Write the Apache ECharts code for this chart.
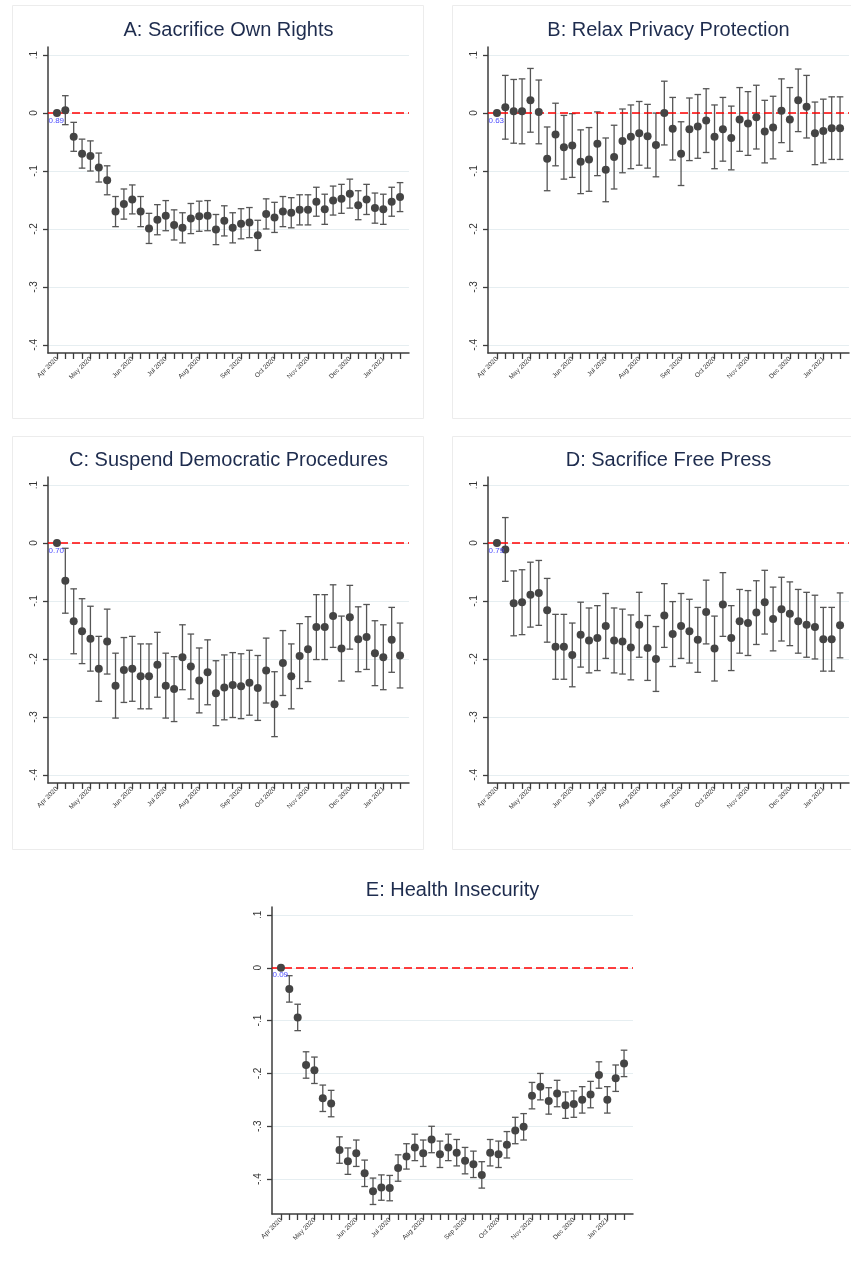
<!DOCTYPE html>
<html><head><meta charset="utf-8">
<script src="https://cdn.jsdelivr.net/npm/echarts@6/dist/echarts.min.js"></script>
<style>html,body{margin:0;padding:0;background:#fff}#c{width:851px;height:1274px}</style>
</head><body><div id="c"></div>
<script>
// ---- data ----
const tickLabels = ["Apr 2020","May 2020","Jun 2020","Jul 2020","Aug 2020","Sep 2020","Oct 2020","Nov 2020","Dec 2020","Jan 2021"];
const tickWeeks  = [0,4,9,13,17,22,26,30,35,39];
const weeks = [0,1,2,3,4,5,6,7,8,9,10,11,12,13,14,15,16,17,18,19,20,21,22,23,24,25,26,27,28,29,30,31,32,33,34,35,36,37,38,39,40,41];
const yTicks = [0.1,0,-0.1,-0.2,-0.3,-0.4];

const titles = ["A: Sacrifice Own Rights","B: Relax Privacy Protection","C: Suspend Democratic Procedures","D: Sacrifice Free Press","E: Health Insecurity"];
const baseLabels = ["0.89","0.63","0.70","0.79","0.09"];

const estA = [0,0.005,-0.041,-0.070,-0.074,-0.094,-0.116,-0.170,-0.157,-0.149,-0.170,-0.199,-0.184,-0.177,-0.193,-0.198,-0.182,-0.178,-0.177,-0.201,-0.186,-0.198,-0.191,-0.189,-0.211,-0.174,-0.180,-0.170,-0.172,-0.167,-0.167,-0.153,-0.166,-0.151,-0.148,-0.139,-0.159,-0.149,-0.164,-0.166,-0.153,-0.145];
const ciA  = [null,0.025,0.025,0.025,0.026,0.025,0.025,0.026,0.026,0.025,0.026,0.026,0.026,0.026,0.026,0.026,0.026,0.026,0.026,0.026,0.026,0.026,0.026,0.026,0.026,0.026,0.026,0.026,0.026,0.026,0.026,0.025,0.026,0.025,0.025,0.025,0.025,0.026,0.026,0.026,0.025,0.025];

const estB = [0,0.010,0.003,0.003,0.022,0.002,-0.079,-0.037,-0.059,-0.056,-0.084,-0.080,-0.053,-0.098,-0.076,-0.048,-0.041,-0.035,-0.040,-0.055,0.000,-0.027,-0.070,-0.028,-0.023,-0.013,-0.041,-0.028,-0.043,-0.011,-0.018,-0.007,-0.032,-0.025,0.004,-0.011,0.022,0.011,-0.035,-0.031,-0.026,-0.026];
const ciB  = [null,0.055,0.055,0.056,0.055,0.055,0.055,0.054,0.055,0.055,0.055,0.055,0.055,0.055,0.055,0.055,0.055,0.055,0.055,0.055,0.055,0.054,0.055,0.054,0.055,0.055,0.055,0.055,0.055,0.055,0.055,0.055,0.054,0.054,0.055,0.055,0.054,0.054,0.054,0.055,0.054,0.054];

const estC = [0,-0.065,-0.135,-0.152,-0.165,-0.217,-0.170,-0.246,-0.219,-0.217,-0.230,-0.230,-0.210,-0.246,-0.252,-0.197,-0.213,-0.237,-0.223,-0.259,-0.249,-0.245,-0.247,-0.241,-0.250,-0.220,-0.278,-0.207,-0.230,-0.195,-0.183,-0.145,-0.145,-0.126,-0.182,-0.128,-0.166,-0.162,-0.190,-0.197,-0.167,-0.194];
const ciC  = [null,0.056,0.056,0.056,0.056,0.056,0.056,0.056,0.056,0.056,0.056,0.056,0.056,0.056,0.056,0.056,0.056,0.056,0.056,0.056,0.056,0.056,0.056,0.056,0.056,0.056,0.056,0.056,0.056,0.056,0.056,0.056,0.056,0.054,0.056,0.055,0.056,0.056,0.056,0.056,0.056,0.056];

const estD = [0,-0.011,-0.104,-0.102,-0.089,-0.086,-0.116,-0.179,-0.179,-0.193,-0.158,-0.168,-0.164,-0.143,-0.168,-0.170,-0.180,-0.141,-0.181,-0.200,-0.125,-0.157,-0.143,-0.152,-0.167,-0.119,-0.182,-0.106,-0.164,-0.135,-0.138,-0.120,-0.102,-0.131,-0.114,-0.122,-0.135,-0.141,-0.145,-0.166,-0.166,-0.142];
const ciD  = [null,0.055,0.056,0.056,0.056,0.056,0.055,0.056,0.056,0.055,0.056,0.056,0.056,0.056,0.056,0.056,0.056,0.056,0.056,0.056,0.055,0.056,0.056,0.055,0.056,0.055,0.056,0.055,0.056,0.055,0.056,0.055,0.055,0.055,0.055,0.055,0.055,0.056,0.055,0.055,0.055,0.056];

const estE = [0,-0.040,-0.094,-0.184,-0.194,-0.247,-0.257,-0.345,-0.366,-0.351,-0.389,-0.423,-0.416,-0.417,-0.379,-0.357,-0.340,-0.351,-0.325,-0.353,-0.340,-0.350,-0.365,-0.372,-0.392,-0.350,-0.353,-0.335,-0.308,-0.301,-0.242,-0.225,-0.252,-0.238,-0.260,-0.258,-0.250,-0.240,-0.203,-0.250,-0.209,-0.181];
const ciE  = [null,0.025,0.025,0.025,0.025,0.025,0.025,0.025,0.025,0.025,0.025,0.025,0.024,0.024,0.025,0.024,0.025,0.025,0.025,0.025,0.025,0.025,0.025,0.025,0.025,0.025,0.025,0.025,0.025,0.025,0.025,0.025,0.025,0.025,0.025,0.025,0.025,0.025,0.025,0.025,0.025,0.025];

// ---- layout ----
const panels = [
  {est: estA, ci: ciA, left: 48,  top: 47,  height: 306, ymin: -0.414, ymax: 0.114, box: [12,5,411,413]},
  {est: estB, ci: ciB, left: 488, top: 47,  height: 306, ymin: -0.414, ymax: 0.114, box: [452,5,410,413]},
  {est: estC, ci: ciC, left: 48,  top: 477, height: 306, ymin: -0.414, ymax: 0.114, box: [12,436,411,413]},
  {est: estD, ci: ciD, left: 488, top: 477, height: 306, ymin: -0.414, ymax: 0.114, box: [452,436,410,413]},
  {est: estE, ci: ciE, left: 272, top: 907, height: 307, ymin: -0.466, ymax: 0.115, box: null}
];
const plotW = 361;

function fmtY(v){ if (Math.abs(v) < 1e-9) return '0'; return (Math.round(v*10)/10).toString().replace('0.', '.'); }

const grid = [], xAxis = [], yAxis = [], series = [], graphic = [];
const axisCol = '#3c3c3c';
panels.forEach((p, i) => {
  grid.push({left: p.left, top: p.top, width: plotW, height: p.height});
  xAxis.push({
    type: 'value', gridIndex: i, min: -1.07, max: 42.07,
    axisLine: {show: true, onZero: false, lineStyle: {color: axisCol, width: 1.5}},
    axisTick: {show: true, customValues: weeks, length: 6, lineStyle: {color: axisCol, width: 1.3}},
    axisLabel: {show: true, customValues: tickWeeks, rotate: 45, fontSize: 6.5, color: '#333', margin: 5,
      fontFamily: 'Liberation Sans, Arial, sans-serif',
      formatter: v => { const k = tickWeeks.indexOf(Math.round(v)); return k >= 0 ? tickLabels[k] : ''; }},
    splitLine: {show: false}
  });
  yAxis.push({
    type: 'value', gridIndex: i, min: p.ymin, max: p.ymax,
    axisLine: {show: true, onZero: false, lineStyle: {color: axisCol, width: 1.5}},
    axisTick: {show: true, customValues: yTicks, length: 5, lineStyle: {color: axisCol, width: 1.3}},
    axisLabel: {show: true, customValues: yTicks, rotate: 90, fontSize: 10, color: '#333', margin: 9,
      fontFamily: 'Liberation Sans, Arial, sans-serif', formatter: fmtY},
    splitLine: {show: true, lineStyle: {color: '#e6eef1', width: 1}}
  });
  const ciData = [];
  p.est.forEach((v, k) => { if (p.ci[k] != null) ciData.push([weeks[k], v - p.ci[k], v + p.ci[k]]); });
  series.push({
    type: 'custom', xAxisIndex: i, yAxisIndex: i, data: ciData, z: 3, silent: true,
    renderItem: (params, api) => {
      const x = api.value(0);
      const lo = api.coord([x, api.value(1)]);
      const hi = api.coord([x, api.value(2)]);
      const cw = 3.3;
      const st = {stroke: '#555', lineWidth: 1.3};
      return {type: 'group', children: [
        {type: 'line', shape: {x1: hi[0], y1: hi[1], x2: lo[0], y2: lo[1]}, style: st},
        {type: 'line', shape: {x1: hi[0]-cw, y1: hi[1], x2: hi[0]+cw, y2: hi[1]}, style: st},
        {type: 'line', shape: {x1: lo[0]-cw, y1: lo[1], x2: lo[0]+cw, y2: lo[1]}, style: st}
      ]};
    }
  });
  const pts = p.est.map((v, k) => {
    const d = {value: [weeks[k], v]};
    if (k === 0) d.label = {show: true, formatter: baseLabels[i], position: [-4.5, 7.5], color: '#4b4bff',
      fontSize: 8, fontFamily: 'Liberation Sans, Arial, sans-serif', align: 'left', verticalAlign: 'top'};
    return d;
  });
  series.push({
    type: 'scatter', xAxisIndex: i, yAxisIndex: i, data: pts, symbolSize: 8, z: 5, silent: true,
    itemStyle: {color: '#444', opacity: 1},
    markLine: {silent: true, symbol: 'none', label: {show: false}, animation: false,
      lineStyle: {color: '#ff0000', type: [8, 4], width: 1.6}, data: [{yAxis: 0}]}
  });
  graphic.push({type: 'text', x: p.left + plotW/2, y: p.top - 17,
    style: {text: titles[i], fill: '#1e2c4e', font: '20px "Liberation Sans", Arial, sans-serif', align: 'center', verticalAlign: 'middle'}});
  if (p.box) graphic.push({type: 'rect', shape: {x: p.box[0]+0.5, y: p.box[1]+0.5, width: p.box[2], height: p.box[3]},
    style: {fill: 'none', stroke: '#ececec', lineWidth: 1}, z: -1});
});

const chart = echarts.init(document.getElementById('c'), null, {renderer: 'canvas'});
chart.setOption({animation: false, backgroundColor: '#fff', grid, xAxis, yAxis, series, graphic});
</script></body></html>
